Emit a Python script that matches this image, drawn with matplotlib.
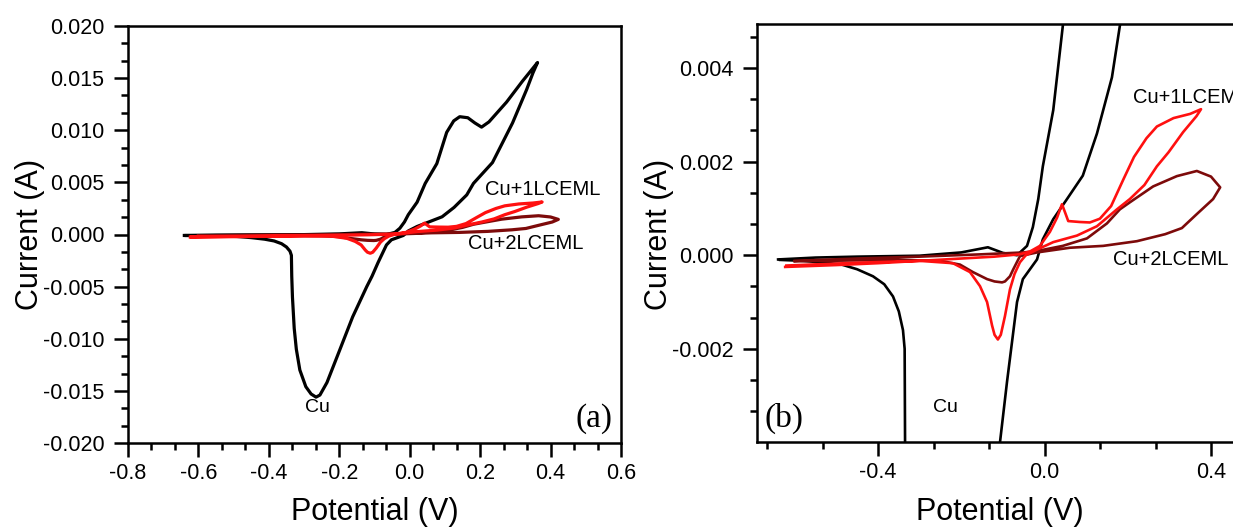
import matplotlib
matplotlib.use("Agg")
import matplotlib.pyplot as plt
from matplotlib.ticker import MultipleLocator, AutoMinorLocator, FormatStrFormatter

plt.rcParams.update({
    "font.family": "sans-serif",
    "font.sans-serif": ["Liberation Sans", "DejaVu Sans"],
    "axes.linewidth": 1.8,
})

# Cu (bare)
cu_E = [-0.640, -0.55, -0.45, -0.30, -0.20, -0.136, -0.10, -0.066, -0.042, -0.028,
        -0.015, -0.004, 0.021, 0.044, 0.077, 0.105, 0.125, 0.142, 0.165, 0.185,
        0.204, 0.225, 0.275, 0.32, 0.363, 0.350, 0.332, 0.292, 0.235, 0.181,
        0.162, 0.126, 0.092, 0.054, 0.021, -0.004, -0.018, -0.052, -0.066, -0.090,
        -0.107, -0.122, -0.162, -0.199, -0.235, -0.255, -0.266, -0.280, -0.295, -0.312,
        -0.322, -0.328, -0.333, -0.335, -0.336, -0.340, -0.350, -0.364, -0.385, -0.412,
        -0.45, -0.491, -0.58, -0.635]
cu_I = [-0.00009, -0.00005, -0.00003, -0.00001, 0.00006, 0.00017, 0.00005, 0.0, 0.0002, 0.0006,
        0.0012, 0.0019, 0.0031, 0.0049, 0.0068, 0.0098, 0.0109, 0.0113, 0.0112, 0.0107,
        0.0103, 0.0108, 0.0127, 0.0147, 0.0165, 0.0155, 0.0139, 0.0107, 0.0069, 0.0049,
        0.0038, 0.0026, 0.0017, 0.0012, 0.00077, 0.00034, -0.00009, -0.00051, -0.0010, -0.0027,
        -0.0040, -0.0050, -0.0079, -0.0111, -0.0142, -0.0154, -0.0156, -0.0153, -0.0146, -0.0130,
        -0.0110, -0.0090, -0.0060, -0.0040, -0.0020, -0.0016, -0.0012, -0.00088, -0.00062, -0.00045,
        -0.0003, -0.00019, -0.00012, -0.0001]

# Cu + 1 LCEML
l1_E = [-0.623, -0.50, -0.40, -0.30, -0.20, -0.12, -0.06, -0.035, -0.011, 0.013,
        0.030, 0.042, 0.050, 0.057, 0.085, 0.109, 0.133, 0.160, 0.19, 0.215,
        0.245, 0.27, 0.31, 0.35, 0.376, 0.365, 0.333, 0.298, 0.27, 0.24,
        0.205, 0.174, 0.126, 0.078, 0.021, -0.018, -0.045, -0.059, -0.072, -0.083,
        -0.095, -0.105, -0.112, -0.120, -0.126, -0.138, -0.155, -0.179, -0.22, -0.30,
        -0.45, -0.62]
l1_I = [-0.00025, -0.00021, -0.00017, -0.00012, -0.00007, -0.00003, 0.00002, 0.00008, 0.0002, 0.0005,
        0.0008, 0.00109, 0.0009, 0.00073, 0.00071, 0.0007, 0.00078, 0.00105, 0.00163, 0.0021,
        0.0025, 0.00275, 0.00293, 0.00302, 0.00312, 0.00297, 0.00263, 0.0022, 0.0019, 0.0015,
        0.0012, 0.00098, 0.00062, 0.00042, 0.00028, 0.00012, 0.0, -0.00015, -0.0004, -0.00073,
        -0.0013, -0.0017, -0.0018, -0.0017, -0.0015, -0.0010, -0.00066, -0.00036, -0.00017, -0.00012,
        -0.00016, -0.00022]

# Cu + 2 LCEML
l2_E = [-0.60, -0.45, -0.30, -0.15, -0.05, -0.018, 0.044, 0.102, 0.150, 0.181,
        0.205, 0.261, 0.318, 0.366, 0.400, 0.422, 0.405, 0.366, 0.330, 0.290,
        0.222, 0.141, 0.061, -0.018, -0.059, -0.075, -0.083, -0.095, -0.102, -0.120,
        -0.138, -0.172, -0.203, -0.25, -0.35, -0.45, -0.60]
l2_I = [-0.00012, -0.00007, -0.00003, 0.00002, 0.00006, 0.00009, 0.0002, 0.00036, 0.00068, 0.00098,
        0.00113, 0.00147, 0.00169, 0.0018, 0.00168, 0.00145, 0.0012, 0.00088, 0.00058, 0.00045,
        0.0003, 0.0002, 0.00016, 0.00006, -0.00002, -0.0003, -0.00045, -0.00056, -0.00058, -0.00056,
        -0.00051, -0.00036, -0.0002, -0.00012, -0.0001, -0.00011, -0.00013]

BLACK, RED, DARK = "#000000", "#ff1010", "#7d0a0a"
W, H = 1233, 529

fig = plt.figure(figsize=(W / 100, H / 100), dpi=100)
# axes placed in pixel units of the reference
axa = fig.add_axes([128 / W, 1 - 443 / H, (621 - 128) / W, (443 - 26) / H])
axb = fig.add_axes([757 / W, 1 - 442 / H, (1260 - 757) / W, (442 - 24) / H])

for ax, lw in ((axa, 2.3), (axb, 1.9)):
    ax.plot(cu_E, cu_I, color=BLACK, lw=lw)
    ax.plot(l2_E, l2_I, color=DARK, lw=lw)
    ax.plot(l1_E, l1_I, color=RED, lw=lw)
    ax.tick_params(which="both", direction="out", top=False, right=False,
                   width=1.8, labelsize=15.5)
    ax.tick_params(which="major", length=10)
    ax.tick_params(which="minor", length=5)
    ax.tick_params(axis="y", pad=7)
    ax.tick_params(axis="x", pad=4.5)
    ax.xaxis.set_minor_locator(AutoMinorLocator(3))
    ax.yaxis.set_minor_locator(AutoMinorLocator(3))
    ax.yaxis.set_major_formatter(FormatStrFormatter("%.3f"))
    ax.xaxis.set_major_formatter(FormatStrFormatter("%.1f"))

# panel (a)
axa.set_xlim(-0.8, 0.6)
axa.set_ylim(-0.020, 0.020)
axa.xaxis.set_major_locator(MultipleLocator(0.2))
axa.yaxis.set_major_locator(MultipleLocator(0.005))
axa.text(0.213, 0.00427, "Cu+1LCEML", fontsize=14.5, va="center")
axa.text(0.1645, -0.00086, "Cu+2LCEML", fontsize=14.5, va="center")
axa.text(-0.261, -0.01664, "Cu", fontsize=14, ha="center", va="center")
axa.text(0.576, -0.01846, "(a)", fontsize=24, family="Liberation Serif",
         ha="right", va="baseline")

# panel (b)
axb.set_xlim(-0.6907, -0.6907 + 503 / 416.25)
axb.set_ylim(-0.00399, 0.00494)
axb.xaxis.set_major_locator(MultipleLocator(0.4))
axb.yaxis.set_major_locator(MultipleLocator(0.002))
axb.spines["right"].set_visible(False)
axb.text(0.2126, 0.00338, "Cu+1LCEML", fontsize=14.5, va="center")
axb.text(0.1646, -0.0000856, "Cu+2LCEML", fontsize=14.5, va="center")
axb.text(-0.239, -0.00325, "Cu", fontsize=14, ha="center", va="center")
axb.text(-0.6715, -0.00366, "(b)", fontsize=24, family="Liberation Serif",
         ha="left", va="baseline")

# axis titles
for x in (30, 659):
    fig.text(x / W, 1 - 234 / H, "Current (A)", rotation=90, fontsize=22,
             ha="center", va="center")
for x in (375, 1000):
    fig.text(x / W, 1 - 512 / H, "Potential (V)", fontsize=22,
             ha="center", va="center")

fig.savefig("out.png", dpi=100)
